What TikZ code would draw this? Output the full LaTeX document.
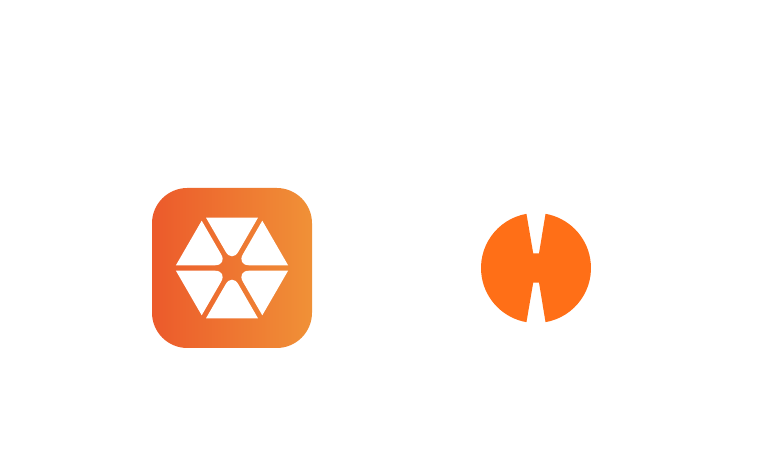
\documentclass[tikz,border=0pt]{standalone}
\definecolor{gradL}{HTML}{EC5A2B}
\definecolor{gradR}{HTML}{F09137}
\definecolor{discO}{HTML}{FF6F17}
\tikzset{
  px/.style={x=0.75pt,y=0.75pt},
  tile/.style={left color=gradL,right color=gradR,rounded corners=26.5pt},
  petal/.style={fill=white},
  disc/.style={fill=discO}
}
\begin{document}
\begin{tikzpicture}[px]
\useasboundingbox (0,0) rectangle (768,456);
\fill[white] (0,0) rectangle (768,456);
\shade[tile] (152,108) rectangle (312,268);
% top and bottom triangles
\fill[petal] (206,238.3) -- (258,238.3) [rounded corners=9.5pt] -- (232,193.3) [sharp corners] -- cycle;
\fill[petal] (206,137.7) -- (258,137.7) [rounded corners=9.5pt] -- (232,182.7) [sharp corners] -- cycle;
% side triangles
\fill[petal] (201.7,235.3) -- (175.9,190.7) [rounded corners=9.5pt] -- (227.5,190.7) [sharp corners] -- cycle;
\fill[petal] (262.3,235.3) -- (288.1,190.7) [rounded corners=9.5pt] -- (236.5,190.7) [sharp corners] -- cycle;
\fill[petal] (201.7,140.7) -- (175.9,185.3) [rounded corners=9.5pt] -- (227.5,185.3) [sharp corners] -- cycle;
\fill[petal] (262.3,140.7) -- (288.1,185.3) [rounded corners=9.5pt] -- (236.5,185.3) [sharp corners] -- cycle;
% disc
\fill[disc] (526.45,242.16) arc[start angle=100,end angle=260,radius=55]
  -- (533.2,173.3) -- (539,173.3) -- (545.55,133.84)
  arc[start angle=-80,end angle=80,radius=55]
  -- (539,202.7) -- (533.2,202.7) -- cycle;
\end{tikzpicture}
\end{document}
